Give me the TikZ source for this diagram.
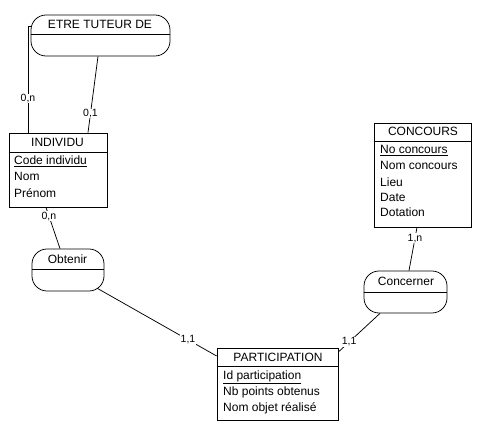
\documentclass[tikz,border=0pt]{standalone}
\usepackage{fontspec}
\setmainfont{Liberation Sans}
\usepackage{tikz}
\tikzset{
	entite/.style={draw, line width=0.75pt, fill=white, inner sep=0pt},
	relation/.style={draw, line width=0.75pt, fill=white, rounded corners=15pt, inner sep=0pt},
	lien/.style={line width=0.75pt},
	card/.style={fill=white, inner sep=0.6pt, font=\fontsize{10.5}{12}\selectfont},
	titre/.style={anchor=base, inner sep=0pt},
	attr/.style={anchor=base west, inner sep=0pt},
}

\begin{document}
\begin{tikzpicture}[x=1pt, y=-1pt, font=\fontsize{12}{14}\selectfont]
			%%%%% START %%%%%
			\useasboundingbox (0,0) rectangle (485,433);
			
			% relations
			\node[relation, minimum width=139pt, minimum height=41pt] (tuteur) at (100.5, 35.5) {};
			\draw[lien] ([yshift=1.5pt]tuteur.west) -- ([yshift=1.5pt]tuteur.east);
			\node[titre] (tuteurT) at (100, 29) {ETRE TUTEUR DE};
			
			\node[relation, minimum width=72pt, minimum height=42pt] (obtenir) at (68, 270) {};
			\draw[lien] ([yshift=1pt]obtenir.west) -- ([yshift=1pt]obtenir.east);
			\node[titre] (obtenirT) at (67.5, 263) {Obtenir};
			
			\node[relation, minimum width=83pt, minimum height=42pt] (concerner) at (405.5, 292) {};
			\draw[lien] (concerner.west) -- (concerner.east);
			\node[titre] (concernerT) at (406, 285) {Concerner};
			
			% entites
			\node[entite, minimum width=98pt, minimum height=74pt] (indiv) at (58, 170) {};
			\draw[lien] ([yshift=-20pt]indiv.north west) -- ([yshift=-20pt]indiv.north east);
			\node[titre] (indivT) at (57.5, 147) {INDIVIDU};
			\node[attr] (indivA) at (14, 165) {\underline{Code individu}};
			\node[attr] (indivB) at (14, 181) {Nom};
			\node[attr] (indivC) at (14, 197) {Prénom};
			
			\node[entite, minimum width=97pt, minimum height=104pt] (concours) at (422.5, 175) {};
			\draw[lien] ([yshift=-19pt]concours.north west) -- ([yshift=-19pt]concours.north east);
			\node[titre] (concoursT) at (423, 136) {CONCOURS};
			\node[attr] (concoursA) at (380, 154) {\underline{No concours}};
			\node[attr] (concoursB) at (380, 170) {Nom concours};
			\node[attr] (concoursC) at (380, 186) {Lieu};
			\node[attr] (concoursD) at (380, 202) {Date};
			\node[attr] (concoursE) at (380, 217) {Dotation};
			
			\node[entite, minimum width=121pt, minimum height=72pt] (partic) at (277.5, 384) {};
			\draw[lien] ([yshift=-19pt]partic.north west) -- ([yshift=-19pt]partic.north east);
			\node[titre] (particT) at (278, 361) {PARTICIPATION};
			\node[attr] (particA) at (223, 379) {\underline{Id participation}};
			\node[attr] (particB) at (223, 395) {Nb points obtenus};
			\node[attr] (particC) at (223, 411) {Nom objet réalisé};
			
			% liens
			\draw[lien] ([xshift=0.8pt, yshift=9.5pt]tuteur.west) -| node[card, pos=0.84] (card1) {0,n} ([xshift=-30pt]indiv.north);
			\draw[lien] ([xshift=-2.5pt]tuteur.south) -- node[card, pos=0.75] (card2) {0,1} ([xshift=30pt]indiv.north);
			\draw[lien] ([xshift=-12pt]indiv.south) -- node[card, pos=0.21] (card3) {0,n} ([xshift=-8pt]obtenir.north);
			\draw[lien] ([xshift=-7pt, yshift=3pt]obtenir.south east) -- node[card, pos=0.76] (card4) {1,1} ([yshift=28pt]partic.west);
			\draw[lien] ([xshift=-25.5pt]concerner.south) -- node[card, pos=0.74] (card5) {1,1} ([yshift=32pt]partic.east);
			\draw[lien] ([xshift=-5.5pt]concours.south) -- node[card, pos=0.25] (card6) {1,n} ([xshift=3.5pt]concerner.north);
			
			%%%%% END %%%%%
		\end{tikzpicture}
\end{document}
